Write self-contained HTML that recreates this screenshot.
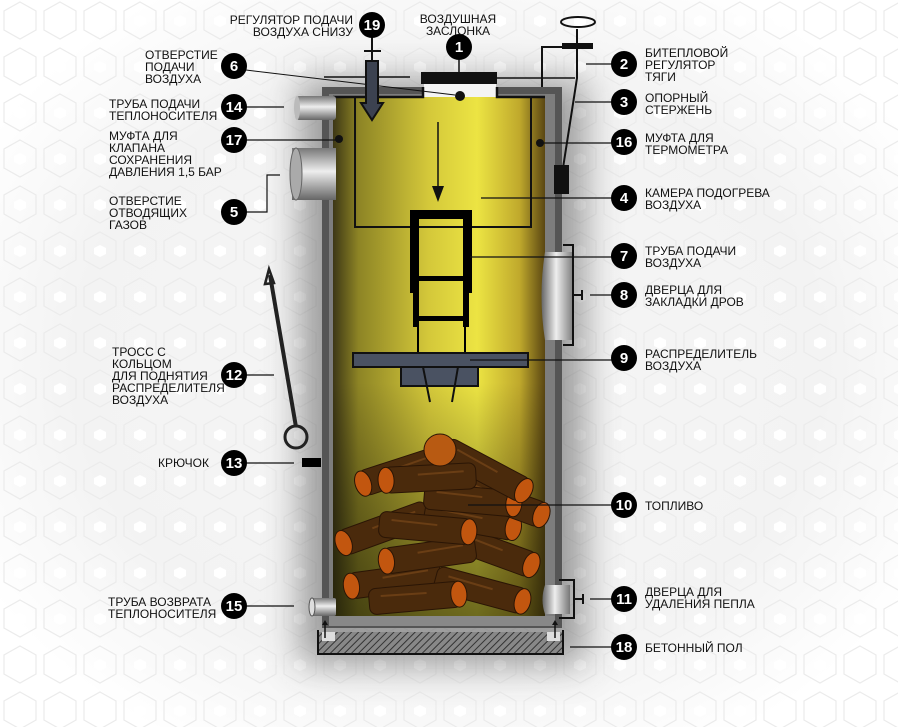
<!DOCTYPE html>
<html><head><meta charset="utf-8"><style>
html,body{margin:0;padding:0;background:#f2f2f2}
svg{display:block}
text{font-family:"Liberation Sans",sans-serif;font-size:12px;fill:#111}
.n{fill:#fff;font-size:15px;font-weight:bold;text-anchor:middle}
</style></head><body>
<svg width="898" height="727" viewBox="0 0 898 727" xmlns="http://www.w3.org/2000/svg">
<defs>
<radialGradient id="bg" cx="50%" cy="50%" r="60%"><stop offset="0" stop-color="#f6f6f6"/><stop offset="0.7" stop-color="#f3f3f3"/><stop offset="1" stop-color="#fff"/></radialGradient>
<pattern id="hex" width="40" height="46" patternUnits="userSpaceOnUse"><polygon points="20,2 36,11 36,30 20,39 4,30 4,11" fill="none" stroke="#ebebeb" stroke-width="1.2"/><polygon points="20,15 26,18 26,24 20,27 14,24 14,18" fill="#fff"/></pattern>
<filter id="blur" x="-30%" y="-30%" width="160%" height="160%"><feGaussianBlur stdDeviation="18"/></filter>
<linearGradient id="yel" x1="0" x2="1"><stop offset="0" stop-color="#3d3715"/><stop offset="0.12" stop-color="#8d8425"/><stop offset="0.45" stop-color="#d4c83a"/><stop offset="0.68" stop-color="#ece443"/><stop offset="0.88" stop-color="#c0a92c"/><stop offset="1" stop-color="#5a4612"/></linearGradient>
<linearGradient id="yelv" x1="0" y1="0" x2="0" y2="1"><stop offset="0" stop-color="#000" stop-opacity="0"/><stop offset="0.55" stop-color="#000" stop-opacity="0"/><stop offset="1" stop-color="#1a1a05" stop-opacity="0.6"/></linearGradient>
<linearGradient id="cyl" x1="0" y1="0" x2="0" y2="1"><stop offset="0" stop-color="#777"/><stop offset="0.45" stop-color="#eee"/><stop offset="1" stop-color="#666"/></linearGradient>
<linearGradient id="cylh" x1="0" x2="1"><stop offset="0" stop-color="#666"/><stop offset="0.45" stop-color="#eee"/><stop offset="1" stop-color="#777"/></linearGradient>
<pattern id="hatch" width="5" height="5" patternUnits="userSpaceOnUse" patternTransform="rotate(45)"><rect width="5" height="5" fill="#888"/><line x1="0" y1="0" x2="0" y2="5" stroke="#333" stroke-width="2"/></pattern>
<g id="log"><rect x="-46" y="-13" width="92" height="26" rx="7" fill="#4a2a0c" stroke="#2a1505" stroke-width="1"/><ellipse cx="44" cy="0" rx="8" ry="13" fill="#c2560f" stroke="#2a1505"/><path d="M-34,-5 L12,-4" stroke="#6a3e15" stroke-width="2"/></g>
</defs>
<rect width="898" height="727" fill="url(#bg)"/>
<rect width="898" height="727" fill="url(#hex)"/>
<rect x="300" y="80" width="285" height="585" fill="#444" opacity="0.5" filter="url(#blur)"/>

<!-- boiler walls -->
<rect x="322" y="87" width="240" height="541" fill="#555"/>
<rect x="329" y="94" width="226" height="528" fill="#7d7d7d"/>
<rect x="333" y="97" width="212" height="519" fill="url(#yel)"/>
<rect x="333" y="97" width="212" height="519" fill="url(#yelv)"/>
<rect x="424" y="84" width="72" height="13" fill="#f4f4f4"/>
<path d="M423,87 V97 H333" stroke="#111" stroke-width="2.5" fill="none"/>
<path d="M497,87 V97 H545" stroke="#111" stroke-width="2.5" fill="none"/>
<rect x="329" y="616" width="226" height="10" fill="#888"/>
<!-- floor -->
<rect x="318" y="632" width="245" height="22" fill="url(#hatch)"/>
<path d="M318,630 V654 H563 V630" stroke="#111" stroke-width="2" fill="none"/>
<rect x="322" y="632" width="13" height="9" fill="#ddd"/><rect x="547" y="632" width="13" height="9" fill="#ddd"/>
<path d="M325,638 V624 M555,638 V624" stroke="#111" stroke-width="1.5"/>
<path d="M322,625 l3,-5 3,5z M552,625 l3,-5 3,5z" fill="#111"/>

<!-- air chamber -->
<path d="M355,97 V227 H531 V97" stroke="#111" stroke-width="2" fill="none"/>
<path d="M438,122 V190" stroke="#111" stroke-width="1.5"/>
<path d="M432,186 h12 l-6,16z" fill="#111"/>
<!-- damper -->
<rect x="421" y="72" width="76" height="12" fill="#111"/>
<path d="M459,60 V72 M497,78 H575 M324,77 H410" stroke="#111" stroke-width="1.5"/>
<circle cx="460" cy="96" r="5" fill="#111"/>
<path d="M246,70 L455,95" stroke="#111" stroke-width="1"/>
<!-- bimetal regulator -->
<path d="M542,87 V47 H564 M577,29 V78 L563,168" stroke="#111" stroke-width="2" fill="none"/>
<rect x="562" y="43" width="31" height="6" fill="#111"/>
<ellipse cx="578" cy="22" rx="17" ry="5" fill="none" stroke="#111" stroke-width="2"/>
<rect x="554" y="165" width="15" height="29" fill="#111"/>
<!-- 19 regulator -->
<path d="M372,37 V60 M364,51 H381" stroke="#111" stroke-width="2"/>
<path d="M366,61 H378 V103 H383 L372,120 L361,103 H366Z" fill="#3c4250" stroke="#111" stroke-width="2"/>
<!-- pipes left -->
<rect x="296" y="96" width="40" height="24" rx="3" fill="url(#cyl)"/>
<ellipse cx="297" cy="108" rx="3" ry="12" fill="#bbb"/>
<rect x="292" y="148" width="44" height="52" fill="url(#cyl)"/>
<ellipse cx="296" cy="174" rx="6" ry="26" fill="#aaa" stroke="#666"/>
<rect x="310" y="598" width="26" height="18" rx="2" fill="url(#cyl)"/>
<ellipse cx="312" cy="607" rx="3" ry="9" fill="#ddd" stroke="#555"/>
<circle cx="339" cy="139" r="4" fill="#111"/><circle cx="540" cy="143" r="4" fill="#111"/>
<!-- door right -->
<path d="M545,252 H574 V340 H545 Q538,296 545,252z" fill="url(#cylh)"/>
<path d="M563,245 H573 V345 H563 M573,295 H582 M582,290 V300" stroke="#111" stroke-width="2" fill="none"/>
<path d="M545,585 H570 V614 H545 Q540,600 545,585z" fill="url(#cylh)"/>
<path d="M559,580 H574 V618 H559 M574,599 H583 M583,594 V604" stroke="#111" stroke-width="2" fill="none"/>
<!-- pipe 7 -->
<path d="M414.5,293 V214.5 H467.5 V293" stroke="#000" stroke-width="9" fill="none"/>
<rect x="414" y="276" width="54" height="5" fill="#000"/>
<path d="M416,293 V327 M466,293 V327" stroke="#000" stroke-width="6"/>
<rect x="416" y="316" width="50" height="5" fill="#000"/>
<path d="M418,327 V353 M465,327 V353" stroke="#000" stroke-width="2"/>
<!-- distributor -->
<rect x="353" y="353" width="175" height="14" fill="#4a5262" stroke="#111" stroke-width="2"/>
<rect x="401" y="367" width="77" height="19" fill="#4a5262" stroke="#111" stroke-width="2"/>
<path d="M423,367 L430,402 M458,367 L452,402" stroke="#111" stroke-width="2"/>
<!-- rope + hook -->
<path d="M270,275 L296,427" stroke="#222" stroke-width="4"/>
<path d="M265,284 l4,-15 5,14z" fill="none" stroke="#222" stroke-width="2.5"/>
<circle cx="296" cy="437" r="11" fill="none" stroke="#222" stroke-width="3"/>
<rect x="302" y="458" width="19" height="9" fill="#000"/>
<!-- logs -->
<g>
<use href="#log" transform="translate(395,580) rotate(-8) scale(-1,1)"/>
<use href="#log" transform="translate(480,590) rotate(15)"/>
<use href="#log" transform="translate(415,598) rotate(-5)"/>
<use href="#log" transform="translate(490,550) rotate(20)"/>
<use href="#log" transform="translate(430,555) rotate(-8) scale(-1,1)"/>
<use href="#log" transform="translate(385,528) rotate(-20) scale(-1,1)"/>
<use href="#log" transform="translate(470,520) rotate(10)"/>
<use href="#log" transform="translate(425,528) rotate(5)"/>
<use href="#log" transform="translate(500,500) rotate(20)"/>
<use href="#log" transform="translate(470,500) rotate(5)"/>
<use href="#log" transform="translate(405,470) rotate(-18) scale(-1,1)"/>
<use href="#log" transform="translate(485,470) rotate(28)"/>
<use href="#log" transform="translate(430,478) rotate(-3) scale(-1,1)"/>
<circle cx="440" cy="450" r="16" fill="#b85a12" stroke="#2a1505"/>
</g>

<!-- leader lines -->
<g stroke="#111" stroke-width="1.2" fill="none">
<path d="M586,64 H612 M575,102 H612 M540,143 H612 M481,198 H612 M470,257 H612 M590,295 H612 M470,360 H612 M468,505 H612 M590,599 H612 M570,647 H612"/>
<path d="M246,107 H284 M246,140 H336 M246,212 H267 V175 H280 M246,375 H274 M246,463 H294 M246,606 H294"/>
</g>
<!-- circles -->
<g fill="#000">
<circle cx="372" cy="25" r="13"/><circle cx="459" cy="47" r="13"/>
<circle cx="234" cy="66" r="13"/><circle cx="234" cy="107" r="13"/><circle cx="234" cy="140" r="13"/><circle cx="234" cy="212" r="13"/><circle cx="234" cy="375" r="13"/><circle cx="234" cy="463" r="13"/><circle cx="234" cy="606" r="13"/>
<circle cx="624" cy="64" r="13"/><circle cx="624" cy="102" r="13"/><circle cx="624" cy="142" r="13"/><circle cx="624" cy="198" r="13"/><circle cx="624" cy="256" r="13"/><circle cx="624" cy="295" r="13"/><circle cx="624" cy="358" r="13"/><circle cx="624" cy="505" r="13"/><circle cx="624" cy="599" r="13"/><circle cx="624" cy="647" r="13"/>
</g>
<g>
<text class="n" x="372" y="30">19</text><text class="n" x="459" y="52">1</text>
<text class="n" x="234" y="71">6</text><text class="n" x="234" y="112">14</text><text class="n" x="234" y="145">17</text><text class="n" x="234" y="217">5</text><text class="n" x="234" y="380">12</text><text class="n" x="234" y="468">13</text><text class="n" x="234" y="611">15</text>
<text class="n" x="624" y="69">2</text><text class="n" x="624" y="107">3</text><text class="n" x="624" y="147">16</text><text class="n" x="624" y="203">4</text><text class="n" x="624" y="261">7</text><text class="n" x="624" y="300">8</text><text class="n" x="624" y="363">9</text><text class="n" x="624" y="510">10</text><text class="n" x="624" y="604">11</text><text class="n" x="624" y="652">18</text>
</g>
<!-- labels -->
<text x="353" y="24" text-anchor="end">РЕГУЛЯТОР ПОДАЧИ</text><text x="353" y="36" text-anchor="end">ВОЗДУХА СНИЗУ</text>
<text x="458" y="23" text-anchor="middle">ВОЗДУШНАЯ</text><text x="458" y="35" text-anchor="middle">ЗАСЛОНКА</text>
<text x="145" y="59">ОТВЕРСТИЕ</text><text x="145" y="71">ПОДАЧИ</text><text x="145" y="83">ВОЗДУХА</text>
<text x="109" y="108">ТРУБА ПОДАЧИ</text><text x="109" y="120">ТЕПЛОНОСИТЕЛЯ</text>
<text x="109" y="140">МУФТА ДЛЯ</text><text x="109" y="152">КЛАПАНА</text><text x="109" y="164">СОХРАНЕНИЯ</text><text x="109" y="176">ДАВЛЕНИЯ 1,5 БАР</text>
<text x="109" y="205">ОТВЕРСТИЕ</text><text x="109" y="217">ОТВОДЯЩИХ</text><text x="109" y="229">ГАЗОВ</text>
<text x="112" y="356">ТРОСС С</text><text x="112" y="368">КОЛЬЦОМ</text><text x="112" y="380">ДЛЯ ПОДНЯТИЯ</text><text x="112" y="392">РАСПРЕДЕЛИТЕЛЯ</text><text x="112" y="404">ВОЗДУХА</text>
<text x="209" y="467" text-anchor="end">КРЮЧОК</text>
<text x="108" y="606">ТРУБА ВОЗВРАТА</text><text x="108" y="618">ТЕПЛОНОСИТЕЛЯ</text>
<text x="645" y="57">БИТЕПЛОВОЙ</text><text x="645" y="69">РЕГУЛЯТОР</text><text x="645" y="81">ТЯГИ</text>
<text x="645" y="102">ОПОРНЫЙ</text><text x="645" y="114">СТЕРЖЕНЬ</text>
<text x="645" y="142">МУФТА ДЛЯ</text><text x="645" y="154">ТЕРМОМЕТРА</text>
<text x="645" y="197">КАМЕРА ПОДОГРЕВА</text><text x="645" y="209">ВОЗДУХА</text>
<text x="645" y="255">ТРУБА ПОДАЧИ</text><text x="645" y="267">ВОЗДУХА</text>
<text x="645" y="294">ДВЕРЦА ДЛЯ</text><text x="645" y="306">ЗАКЛАДКИ ДРОВ</text>
<text x="645" y="358">РАСПРЕДЕЛИТЕЛЬ</text><text x="645" y="370">ВОЗДУХА</text>
<text x="645" y="510">ТОПЛИВО</text>
<text x="645" y="596">ДВЕРЦА ДЛЯ</text><text x="645" y="608">УДАЛЕНИЯ ПЕПЛА</text>
<text x="645" y="652">БЕТОННЫЙ ПОЛ</text>
</svg>
</body></html>
